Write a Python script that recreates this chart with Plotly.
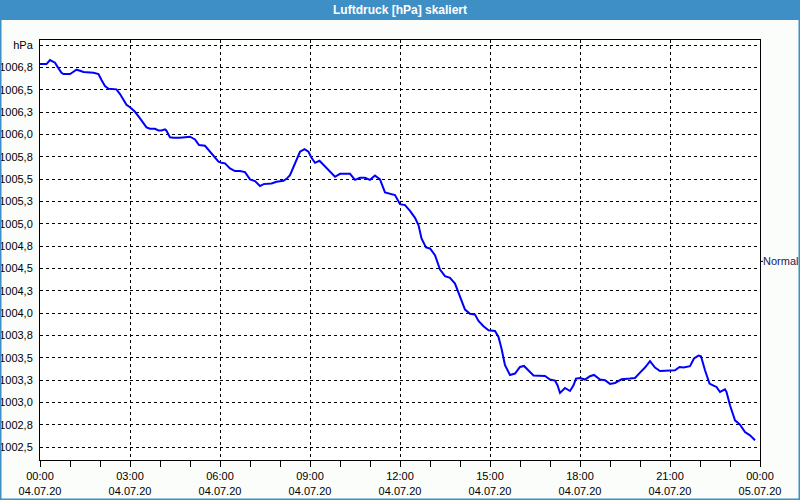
import pandas as pd
import plotly.graph_objects as go

# ---- data (minutes after 04.07.20 00:00, pressure in hPa) ----
minutes = [0, 13, 20, 30, 37, 43, 47, 60, 67, 73, 80, 87, 107, 117, 123, 130, 137, 153,
           160, 167, 173, 180, 190, 200, 207, 213, 220, 230, 237, 243, 250, 253, 260, 267,
           280, 300, 310, 318, 330, 337, 347, 357, 363, 370, 380, 390, 400, 410, 420, 430,
           440, 447, 463, 473, 487, 493, 500, 507, 513, 520, 529, 537, 543, 550, 559, 567,
           577, 580, 590, 600, 620, 630, 640, 650, 660, 670, 680, 690, 700, 710, 720, 730,
           740, 750, 757, 763, 772, 780, 790, 800, 810, 820, 830, 840, 850, 860, 870, 877,
           887, 897, 910, 917, 923, 930, 940, 950, 960, 968, 977, 987, 1010, 1020, 1030,
           1035, 1040, 1050, 1060, 1067, 1072, 1080, 1090, 1100, 1108, 1120, 1130, 1140,
           1150, 1163, 1180, 1190, 1200, 1210, 1220, 1230, 1240, 1260, 1270, 1279, 1287,
           1300, 1308, 1317, 1322, 1330, 1339, 1347, 1353, 1360, 1370, 1373, 1380, 1390,
           1400, 1410, 1420, 1430]
pressure = [1006.787, 1006.787, 1006.832, 1006.802, 1006.739, 1006.690, 1006.675, 1006.675,
            1006.701, 1006.724, 1006.712, 1006.698, 1006.690, 1006.675, 1006.608, 1006.541,
            1006.511, 1006.504, 1006.451, 1006.384, 1006.332, 1006.303, 1006.253, 1006.179,
            1006.124, 1006.079, 1006.063, 1006.063, 1006.045, 1006.045, 1006.056, 1006.041,
            1005.967, 1005.962, 1005.962, 1005.974, 1005.944, 1005.881, 1005.873, 1005.825,
            1005.750, 1005.694, 1005.682, 1005.676, 1005.620, 1005.590, 1005.590, 1005.578,
            1005.497, 1005.478, 1005.422, 1005.444, 1005.452, 1005.470, 1005.481, 1005.503,
            1005.545, 1005.638, 1005.732, 1005.806, 1005.836, 1005.806, 1005.738, 1005.682,
            1005.705, 1005.657, 1005.601, 1005.582, 1005.526, 1005.559, 1005.559, 1005.492,
            1005.515, 1005.515, 1005.492, 1005.541, 1005.497, 1005.351, 1005.340, 1005.321,
            1005.220, 1005.209, 1005.145, 1005.067, 1004.985, 1004.836, 1004.735, 1004.724,
            1004.649, 1004.489, 1004.414, 1004.395, 1004.332, 1004.182, 1004.041, 1003.993,
            1003.985, 1003.914, 1003.854, 1003.810, 1003.802, 1003.735, 1003.605, 1003.418,
            1003.309, 1003.325, 1003.399, 1003.410, 1003.362, 1003.303, 1003.298, 1003.258,
            1003.247, 1003.194, 1003.108, 1003.164, 1003.130, 1003.194, 1003.269, 1003.276,
            1003.258, 1003.295, 1003.309, 1003.258, 1003.250, 1003.209, 1003.220, 1003.261,
            1003.269, 1003.276, 1003.336, 1003.392, 1003.463, 1003.392, 1003.354, 1003.354,
            1003.362, 1003.399, 1003.392, 1003.407, 1003.493, 1003.526, 1003.519, 1003.362,
            1003.213, 1003.191, 1003.175, 1003.119, 1003.149, 1003.119, 1002.970, 1002.802,
            1002.754, 1002.671, 1002.634, 1002.578]

y_tickvals = [1002.5, 1002.75, 1003.0, 1003.25, 1003.5, 1003.75, 1004.0, 1004.25, 1004.5,
              1004.75, 1005.0, 1005.25, 1005.5, 1005.75, 1006.0, 1006.25, 1006.5, 1006.75, 1007.0]
y_ticktext = ["1002,5", "1002,8", "1003,0", "1003,3", "1003,5", "1003,8", "1004,0", "1004,3",
              "1004,5", "1004,8", "1005,0", "1005,3", "1005,5", "1005,8", "1006,0", "1006,3",
              "1006,5", "1006,8", "hPa"]
x_tick_hours = [0, 3, 6, 9, 12, 15, 18, 21, 24]
title_text = "Luftdruck [hPa] skaliert"
normal_label = "Normal"
normal_value = 1004.58
y_range = [1002.358, 1007.056]

start = pd.Timestamp("2020-07-04 00:00")
times = [start + pd.Timedelta(minutes=m) for m in minutes]
x_tickvals = [start + pd.Timedelta(hours=h) for h in x_tick_hours]
x_ticktext = [f"{t:%H:%M}<br>{t:%d.%m.%y}" for t in x_tickvals]

BLUE_BAR = "#3d8fc6"
FONT = "Liberation Sans"

fig = go.Figure()
fig.add_trace(go.Scatter(x=times, y=pressure, mode="lines",
                         line=dict(color="#0000ff", width=2), showlegend=False,
                         hoverinfo="skip"))

L, R, T, B = 40, 40, 40, 40
W, H = 800, 500
pw, ph = W - L - R, H - T - B


def px_x(p):
    return (p - L) / pw


def px_y(p):
    return (H - B - p) / ph


fig.update_layout(
    width=W, height=H,
    margin=dict(l=L, r=R, t=T, b=B, pad=0, autoexpand=False),
    paper_bgcolor="#fbfdfb",
    plot_bgcolor="#ffffff",
    font=dict(family=FONT, size=11, color="#000000"),
    xaxis=dict(
        type="date", automargin=False,
        range=[x_tickvals[0], x_tickvals[-1]],
        tickvals=x_tickvals, ticktext=x_ticktext,
        showgrid=True, gridcolor="#000000", gridwidth=1, griddash="3px,3px",
        showline=True, linecolor="#000000", linewidth=1, mirror=True,
        ticks="outside", ticklen=6, tickcolor="#000000", tickwidth=1,
        minor=dict(dtick=3600000, ticks="outside", ticklen=6, tickcolor="#000000",
                   showgrid=False),
        tickfont=dict(family=FONT, size=11, color="#000000"),
        zeroline=False, fixedrange=True,
    ),
    yaxis=dict(
        automargin=False,
        range=y_range,
        tickvals=y_tickvals, ticktext=y_ticktext,
        showgrid=True, gridcolor="#000000", gridwidth=1, griddash="3px,3px",
        showline=True, linecolor="#000000", linewidth=1, mirror=True,
        ticks="", ticklabelstandoff=4,
        tickfont=dict(family=FONT, size=11, color="#000000"),
        zeroline=False, fixedrange=True,
    ),
    shapes=[
        # title bar
        dict(type="rect", xref="paper", yref="paper",
             x0=px_x(0), x1=px_x(W), y0=px_y(20), y1=px_y(0),
             fillcolor=BLUE_BAR, line=dict(width=0), layer="below"),
        # outer frame
        dict(type="rect", xref="paper", yref="paper",
             x0=px_x(0.5), x1=px_x(W - 0.5), y0=px_y(H - 0.5), y1=px_y(0.5),
             line=dict(color=BLUE_BAR, width=2), fillcolor="rgba(0,0,0,0)"),
        # small tick for the "Normal" marker on the right axis
        dict(type="line", xref="paper", yref="y",
             x0=1.0, x1=px_x(763), y0=normal_value, y1=normal_value,
             line=dict(color="#000000", width=1)),
    ],
    annotations=[
        dict(text=f"<b>{title_text}</b>", xref="paper", yref="paper",
             x=0.5, y=px_y(10), xanchor="center", yanchor="middle",
             showarrow=False, font=dict(family=FONT, size=12, color="#ffffff")),
        dict(text=normal_label, xref="paper", yref="y",
             x=px_x(762), y=normal_value, xanchor="left", yanchor="middle",
             showarrow=False, borderpad=0,
             font=dict(family=FONT, size=11, color="#1a1a60")),
    ],
    showlegend=False,
)

fig.write_html("out.html")
